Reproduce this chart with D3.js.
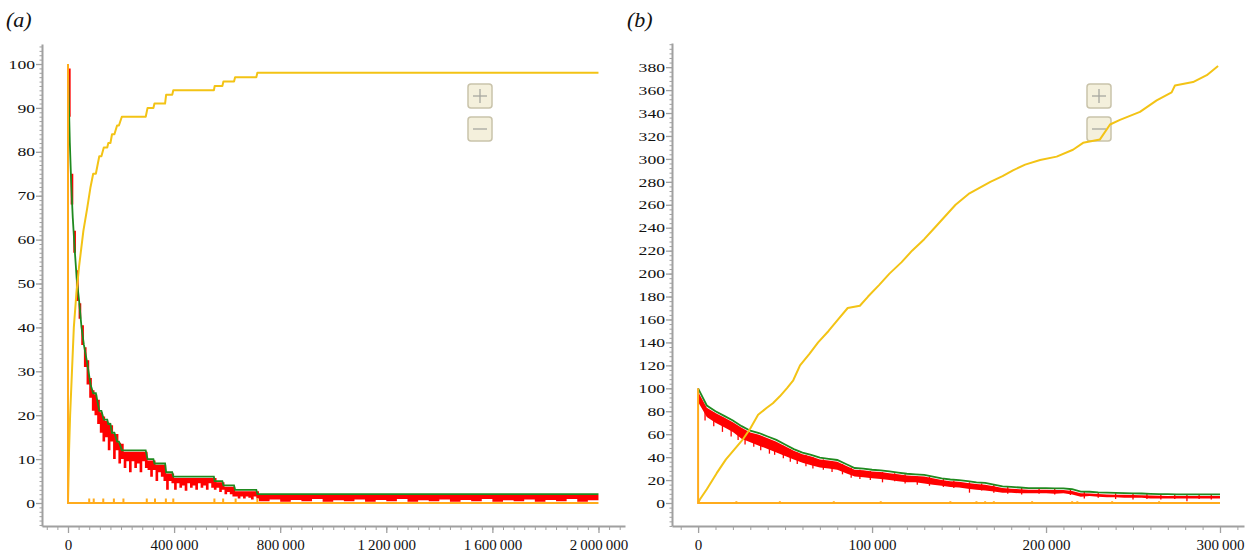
<!DOCTYPE html>
<html>
<head>
<meta charset="utf-8">
<script src="https://cdn.jsdelivr.net/npm/d3@7"></script>
<style>
  html, body { margin: 0; padding: 0; background: #fff; }
  svg { display: block; font-family: "Liberation Serif", "DejaVu Serif", serif; }
  svg text { font-family: "Liberation Serif", "DejaVu Serif", serif; }
</style>
</head>
<body>
<svg id="chart" width="1253" height="555"></svg>
<script>
// ---------- panel (a) ----------
const panelALabel = "(a)";
const yTicksA = d3.range(0, 101, 10);
const xTicksA = [0, 400000, 800000, 1200000, 1600000, 2000000];

// yellow: staircase rising to 98
const yellowA = [
  [0, 0], [4000, 12], [8000, 20], [15000, 30], [22000, 40], [32000, 48], [42000, 54],
  [58000, 62], [72000, 67], [85000, 72], [95000, 75], [105000, 75], [118000, 79],
  [126000, 79], [135000, 81], [148000, 81], [152000, 82], [160000, 82], [166000, 84],
  [175000, 84], [185000, 86], [192000, 86], [203000, 88], [293000, 88], [300000, 90],
  [322000, 90], [326000, 91], [366000, 91], [370000, 93], [393000, 93], [397000, 94],
  [550000, 94], [553000, 95], [582000, 95], [586000, 96], [626000, 96], [630000, 97],
  [710000, 97], [714000, 98], [2000000, 98]
];

// green: staircase falling to 2
const greenA = [
  [0, 100], [3000, 92], [7000, 82], [12000, 73], [18000, 65], [25000, 58], [33000, 51],
  [42000, 46], [51000, 40], [60000, 36], [72000, 32], [85000, 27], [95000, 25],
  [105000, 25], [118000, 21], [126000, 21], [135000, 19], [148000, 19], [152000, 18],
  [160000, 18], [166000, 16], [175000, 16], [185000, 14], [192000, 14], [203000, 12],
  [293000, 12], [300000, 10], [322000, 10], [326000, 9], [366000, 9], [370000, 7],
  [393000, 7], [397000, 6], [550000, 6], [553000, 5], [582000, 5], [586000, 4],
  [626000, 4], [630000, 3], [710000, 3], [714000, 2], [2000000, 2]
];

// red: noisy band (sampled every 10 000 up to 720 000, then every 40 000)
const redATimes = d3.range(0, 720000, 10000).concat(d3.range(720000, 2000001, 40000));
const redAHigh = [
  99, 75, 62, 53, 45.5, 40.5, 35.5, 32.5, 28.5, 25.7, 24.7, 23.5, 20.7, 19.7, 18.7, 18.3, 17.7, 15.7, 15.7, 13.7, 13.5,
  11.7, 11.7, 11.7, 11.7, 11.7, 11.7, 11.7, 11.7, 11.7,
  9.7, 9.7, 9.7,
  8.7, 8.7, 8.7, 8.7,
  6.7, 6.7, 6.7,
  5.7, 5.7, 5.7, 5.7, 5.7, 5.7, 5.7, 5.7, 5.7, 5.7, 5.7, 5.7, 5.7, 5.7, 5.7, 5.7,
  4.7, 4.7, 4.7,
  3.7, 3.7, 3.7, 3.7,
  2.7, 2.7, 2.7, 2.7, 2.7, 2.7, 2.7, 2.7, 2.7,
  1.8, 1.8, 1.8, 1.8, 1.8, 1.8, 1.8, 1.8, 1.8, 1.8, 1.8, 1.8, 1.8, 1.8, 1.8, 1.8, 1.8,
  1.8, 1.8, 1.8, 1.8, 1.8, 1.8, 1.8, 1.8, 1.8, 1.8, 1.8, 1.8, 1.8, 1.8, 1.8, 1.8
];
const redALow = [
  88, 68, 57, 46, 42, 36, 31, 27, 24, 21, 20, 18, 16, 14, 15, 12, 14, 10, 12, 9, 10,
  8, 9.5, 7, 9.5, 8, 9, 7, 9.5, 8,
  7.5, 6, 7.5,
  5, 7, 6, 5,
  3, 5, 4.5,
  3, 4.5, 3.5, 4, 2.8, 4.5, 3.5, 4, 3, 4.5, 3.5, 4, 3, 4.5, 3.5, 3,
  3.5, 2.5, 3,
  2, 2.5, 2, 1.5,
  1.5, 1, 1.5, 1, 1.5, 1.2, 0.8, 1.5, 1,
  0.4, 0.8, 0.3, 0.7, 0.4, 0.9, 0.3, 0.6, 0.4, 0.8, 0.3, 0.7, 0.4, 0.9, 0.3, 0.6, 0.4,
  0.8, 0.3, 0.7, 0.4, 0.9, 0.3, 0.6, 0.4, 0.8, 0.3, 0.7, 0.4, 0.9, 0.3, 0.6, 0.4
];

// orange: vertical at 0 then baseline with small spikes at each event
const orangeSpikesA = [80000, 97000, 133000, 173000, 209000, 297000, 328000, 369000, 397000, 552000, 585000, 632000, 714000];
const orangeSpikeHeightA = 1;

// ---------- panel (b) ----------
const panelBLabel = "(b)";
const yTicksB = d3.range(0, 381, 20);
const xTicksB = [0, 100000, 200000, 300000];

const yellowB = [
  [0, 0], [1000, 3], [5000, 12], [10700, 26], [16000, 38], [21000, 47], [26000, 56],
  [30000, 65], [34500, 77], [39500, 83], [43000, 87], [47000, 93], [51000, 100],
  [54700, 107], [58600, 120], [64000, 130], [69000, 140], [75000, 150], [80500, 160],
  [86000, 170], [93000, 172], [97700, 180], [104000, 190], [110000, 200], [117000, 210],
  [123000, 220], [130000, 230], [136000, 240], [142000, 250], [148000, 260], [156000, 270],
  [162000, 275], [168000, 280], [175000, 285], [181000, 290], [188000, 295], [196600, 299],
  [206100, 302], [215500, 308], [221300, 314], [231000, 317], [236800, 330], [242500, 334],
  [254000, 341], [263600, 351], [272200, 358], [274100, 364], [284500, 367], [292400, 373],
  [298900, 381]
];

const gridTimesB = d3.range(0, 300001, 5000);
const greenB = [
  100, 85, 80, 76, 72, 67, 63, 61, 58, 55, 51, 47, 44, 42, 39.5, 38.5, 37.5, 34, 30.5, 30,
  29, 28.5, 27.5, 26.5, 25.5, 25, 24.5, 23, 21.5, 20.5, 20, 19, 18, 17.5, 16, 14.5, 14, 13.5,
  13, 13, 13, 12.8, 12.8, 12, 10, 9.8, 9.3, 9, 8.8, 8.6, 8.4, 8.3, 8, 7.8, 7.7, 7.6, 7.6,
  7.6, 7.6, 7.6, 7.6
];
const redBHigh = [
  97, 83, 78.5, 74.5, 70.5, 65.5, 61.5, 59.5, 56.5, 53.5,
  49.5, 45.5, 42.5, 40.5, 38, 37, 36, 32.5, 29, 28.5,
  27.5, 27, 26, 25, 24, 23.5, 23, 21.5, 20, 19,
  18.5, 17.5, 16.5, 16, 14.5, 13, 12.5, 12, 11.5, 11.5,
  11.5, 11.3, 11.3, 10.5, 8.5, 8.3, 7.8, 7.5, 7.3, 7.1,
  6.9, 6.8, 6.5, 6.3, 6.2, 6.1, 6.1, 6.1, 6.1, 6.1,
  6.1
];
const redBLow = [
  88, 75, 70, 66, 62, 56, 53, 50, 47, 44,
  41, 38, 35, 33, 31, 30, 29, 26, 23, 22.5,
  21.5, 21, 20, 19, 18, 18, 17, 16, 15, 14,
  13.5, 12.5, 11.5, 11, 10, 9, 9, 8.5, 8.5, 8.5,
  8.5, 8, 8.5, 7.5, 5.5, 6, 5.5, 5, 5, 4.5,
  4.5, 4.5, 4, 4, 4, 4, 4, 4, 4, 4,
  4
];
// red downward spikes: [time, top, bottom]
const redSpikesB = [
  [4000, 84, 72], [9000, 79, 67], [14000, 74, 62], [19000, 70, 58], [23000, 67, 55],
  [27000, 63, 51], [32000, 60, 49], [36000, 58, 46], [41000, 55, 43], [44000, 53, 42],
  [49000, 50, 39], [53000, 47, 36], [57000, 44, 34], [62000, 42, 32], [66000, 40, 30],
  [72000, 38, 29], [77000, 36, 27], [83000, 34, 25], [88000, 31, 22], [93000, 29, 21],
  [99000, 28, 20], [106000, 27, 18], [113000, 26, 19], [119000, 25, 17], [126000, 23, 16],
  [133000, 23, 15], [141000, 21, 14], [147000, 19.5, 13], [156000, 18, 9], [163000, 17, 11],
  [170000, 16, 9], [178000, 14, 8], [186000, 13, 7.5], [196000, 12.5, 8], [205000, 12.5, 7.5],
  [214000, 12, 7], [222000, 9.5, 4], [230000, 9, 4.5], [240000, 8.5, 3.5], [250000, 8, 3],
  [258000, 8, 3.5], [266000, 7.5, 3], [274000, 7.5, 3.5], [281000, 7.5, 1.5], [288000, 7.5, 3.5],
  [295000, 7.3, 3]
];

const orangeBumpsB = [22000, 47000, 78000, 105000, 145000, 160000, 165000, 170000, 192000, 215000, 218000, 238000, 265000];
const orangeBumpHeightB = 1.5;

// ---------- drawing ----------
const COLORS = {
  red: "#ff0000",
  green: "#1f8a1f",
  yellow: "#f3c315",
  orange: "#ffab1c",
  axis: "#a0a0a0"
};
const SERIF = "'Liberation Serif', 'DejaVu Serif', serif";

const fmtX = d3.formatLocale({decimal: ".", thousands: "\u2009", grouping: [3], currency: ["", ""]}).format(",");

const svg = d3.select("#chart");

function spikePath(spikes, h, xEnd) {
  const pts = [[0, 100], [0, 0]];
  spikes.forEach(t => { pts.push([t, 0], [t, h], [t, 0]); });
  pts.push([xEnd, 0]);
  return pts;
}

function drawButtons(g, bx, by) {
  const btn = (y0, sym) => {
    const b = g.append("g").attr("transform", `translate(${bx},${y0})`);
    b.append("rect")
      .attr("width", 24).attr("height", 24).attr("rx", 3)
      .attr("fill", "#f4f0dc").attr("stroke", "#c9c3aa").attr("stroke-width", 1.5);
    b.append("line").attr("x1", 5).attr("x2", 19).attr("y1", 12).attr("y2", 12)
      .attr("stroke", "#a8a8a0").attr("stroke-width", 1.3);
    if (sym === "+") {
      b.append("line").attr("x1", 12).attr("x2", 12).attr("y1", 5).attr("y2", 19)
        .attr("stroke", "#a8a8a0").attr("stroke-width", 1.3);
    }
  };
  btn(by, "+");
  btn(by + 33, "-");
}

function drawPanel(p) {
  const g = svg.append("g");
  const x = d3.scaleLinear().domain(p.xDomain).range([p.left, p.right]);
  const y = d3.scaleLinear().domain(p.yDomain).range([p.bottom, p.top]);

  // y axis: minor then major
  g.append("g")
    .attr("transform", `translate(${p.left},0)`)
    .call(d3.axisLeft(y).tickValues(p.yMinor).tickSize(2.5).tickSizeOuter(0).tickFormat(""))
    .call(a => a.select(".domain").attr("stroke", COLORS.axis).attr("stroke-width", 2))
    .call(a => a.selectAll(".tick line").attr("stroke", COLORS.axis));
  g.append("g")
    .attr("transform", `translate(${p.left},0)`)
    .call(d3.axisLeft(y).tickValues(p.yTicks).tickSize(6).tickPadding(1).tickSizeOuter(0))
    .call(a => a.attr("font-family", SERIF))
    .call(a => a.select(".domain").remove())
    .call(a => a.selectAll(".tick line").attr("stroke", COLORS.axis).attr("stroke-width", 1.3))
    .call(a => a.selectAll(".tick text")
      .attr("fill", "#111")
      .style("font-family", SERIF)
      .style("font-size", "13px")
      .attr("textLength", d => String(d).length * 8.8)
      .attr("lengthAdjust", "spacingAndGlyphs"));

  // x axis: minor then major
  g.append("g")
    .attr("transform", `translate(0,${p.bottom})`)
    .call(d3.axisBottom(x).tickValues(p.xMinor).tickSize(4).tickSizeOuter(0).tickFormat(""))
    .call(a => a.select(".domain").attr("stroke", COLORS.axis).attr("stroke-width", 2))
    .call(a => a.selectAll(".tick line").attr("stroke", COLORS.axis));
  g.append("g")
    .attr("transform", `translate(0,${p.bottom})`)
    .call(d3.axisBottom(x).tickValues(p.xTicks).tickSize(7).tickPadding(6).tickSizeOuter(0).tickFormat(fmtX))
    .call(a => a.attr("font-family", SERIF))
    .call(a => a.select(".domain").remove())
    .call(a => a.selectAll(".tick line").attr("stroke", COLORS.axis).attr("stroke-width", 1.3))
    .call(a => a.selectAll(".tick text")
      .attr("fill", "#111")
      .style("font-family", SERIF)
      .style("font-size", "15px"));

  drawButtons(g, p.btnX, p.btnY);

  // red band
  const redRows = p.redTimes.map((t, i) => [t, p.redHigh[i], p.redLow[i]]);
  g.append("path")
    .datum(redRows)
    .attr("fill", COLORS.red)
    .attr("d", d3.area()
      .curve(p.redCurve)
      .x(d => x(d[0]))
      .y0(d => y(d[2]))
      .y1(d => y(d[1])));

  // red spikes
  g.selectAll(null)
    .data(p.redSpikes || [])
    .join("line")
    .attr("x1", d => x(d[0])).attr("x2", d => x(d[0]))
    .attr("y1", d => y(d[1])).attr("y2", d => y(d[2]))
    .attr("stroke", COLORS.red).attr("stroke-width", 1.3);

  const line = d3.line().x(d => x(d[0])).y(d => y(d[1]));

  g.append("path").datum(p.green)
    .attr("fill", "none").attr("stroke", COLORS.green).attr("stroke-width", 1.8)
    .attr("d", line);
  g.append("path").datum(p.yellow)
    .attr("fill", "none").attr("stroke", COLORS.yellow).attr("stroke-width", 2)
    .attr("stroke-linejoin", "round")
    .attr("d", line);
  g.append("path").datum(p.orange)
    .attr("fill", "none").attr("stroke", COLORS.orange).attr("stroke-width", 2)
    .attr("d", line);

  g.append("text")
    .attr("x", p.labelX).attr("y", 27)
    .style("font-family", SERIF)
    .style("font-size", "22px").style("font-style", "italic")
    .attr("fill", "#111")
    .text(p.label);
}

drawPanel({
  label: panelALabel, labelX: 6,
  left: 42, right: 625, top: 44, bottom: 526,
  xDomain: [-98000, 2100000], yDomain: [-5.24, 104.56],
  xTicks: xTicksA, xMinor: d3.range(-80000, 2100001, 40000),
  yTicks: yTicksA, yMinor: d3.range(-5, 105, 1),
  btnX: 468, btnY: 84,
  green: greenA, yellow: yellowA,
  orange: spikePath(orangeSpikesA, orangeSpikeHeightA, 2000000),
  redTimes: redATimes, redHigh: redAHigh, redLow: redALow, redCurve: d3.curveStepAfter
});

drawPanel({
  label: panelBLabel, labelX: 627,
  left: 672, right: 1244, top: 43, bottom: 526,
  xDomain: [-15000, 313800], yDomain: [-20.05, 401.05],
  xTicks: xTicksB, xMinor: d3.range(-10000, 310001, 10000),
  yTicks: yTicksB, yMinor: d3.range(-20, 401, 4),
  btnX: 1087, btnY: 84,
  green: gridTimesB.map((t, i) => [t, greenB[i]]), yellow: yellowB,
  orange: spikePath(orangeBumpsB, orangeBumpHeightB, 300000),
  redTimes: gridTimesB, redHigh: redBHigh, redLow: redBLow, redCurve: d3.curveLinear,
  redSpikes: redSpikesB
});
</script>
</body>
</html>
